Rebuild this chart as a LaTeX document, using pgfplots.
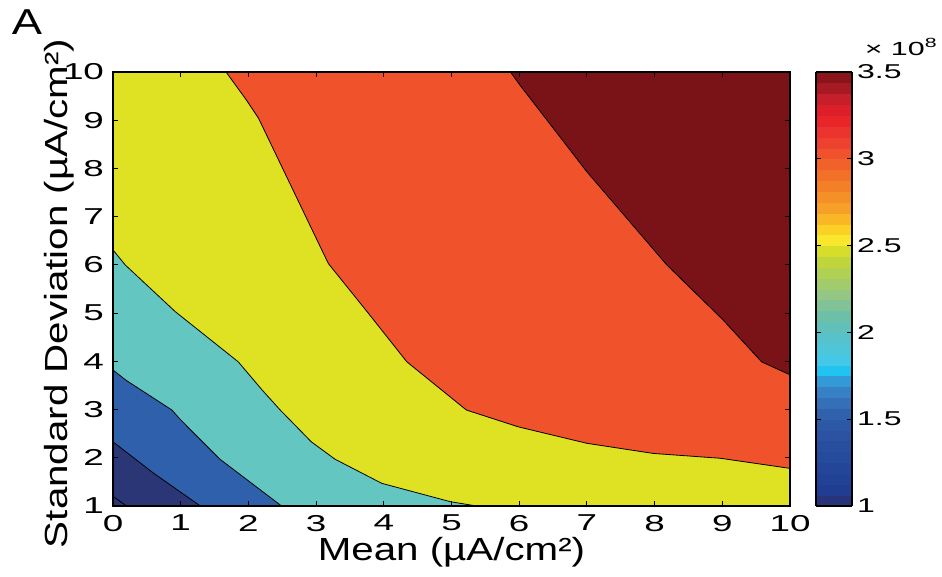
\documentclass[border=0pt]{standalone}
\usepackage{fontspec}
\setmainfont{Liberation Sans}
\newfontfamily\tickfont[FakeStretch=1.6]{Liberation Sans}
\newfontfamily\labelfont[FakeStretch=1.26]{Liberation Sans}
\usepackage{pgfplots}
\pgfplotsset{compat=1.18}

\definecolor{cNavy}{RGB}{42,54,118}
\definecolor{cBlue}{RGB}{46,96,171}
\definecolor{cTeal}{RGB}{99,198,192}
\definecolor{cYellow}{RGB}{223,226,35}
\definecolor{cOrange}{RGB}{240,83,44}
\definecolor{cDarkRed}{RGB}{122,19,23}

\begin{document}
\begin{tikzpicture}
\useasboundingbox (0,0) rectangle (471pt,288.5pt);
\begin{axis}[
    at={(56.5pt,35.5pt)}, anchor=south west,
    scale only axis, width=338.5pt, height=217pt,
    xmin=0, xmax=10, ymin=1, ymax=10,
    xtick={0,1,...,10}, ytick={1,2,...,10},
    tick align=inside, major tick length=2.5pt,
    tick style={black, line width=0.5pt},
    axis line style={line width=0.7pt},
    axis on top,
    /pgf/number format/assume math mode=true,
    ticklabel style={font=\tickfont\fontsize{11.5}{13}\selectfont},
    xticklabel style={yshift=-1pt},
    yticklabel style={xshift=-1pt},
    xlabel={Mean (µA/cm²)},
    ylabel={Standard Deviation (µA/cm²)},
    label style={font=\labelfont\fontsize{16}{19}\selectfont},
    xlabel style={at={(axis description cs:0.5,-0.106)}, anchor=center},
    ylabel style={at={(axis description cs:-0.079,0.49)}, anchor=center},
    colormap={matjet}{
        rgb255(0)=(43,47,110)
        rgb255(10)=(31,62,148)
        rgb255(50)=(45,90,166)
        rgb255(60)=(52,112,184)
        rgb255(70)=(58,141,208)
        rgb255(78)=(32,195,240)
        rgb255(85)=(70,200,230)
        rgb255(100)=(92,192,196)
        rgb255(110)=(110,192,166)
        rgb255(120)=(143,198,138)
        rgb255(135)=(179,209,80)
        rgb255(145)=(202,216,42)
        rgb255(152)=(247,235,43)
        rgb255(160)=(251,207,37)
        rgb255(170)=(248,165,39)
        rgb255(185)=(243,125,39)
        rgb255(200)=(240,90,43)
        rgb255(210)=(238,64,48)
        rgb255(225)=(231,31,39)
        rgb255(235)=(196,30,42)
        rgb255(250)=(122,19,23)
    },
    point meta min=1, point meta max=3.5,
    colorbar sampled,
    colorbar style={
        samples=41,
        width=18pt,
        at={(parent axis.north east)}, anchor=north west, xshift=4.5pt,
        ytick={1,1.5,2,2.5,3,3.5},
        ytick pos=both, yticklabel pos=right,
        tick align=inside, major tick length=2.5pt,
        tick style={black, line width=0.5pt},
        axis line style={line width=0.7pt},
        /pgf/number format/assume math mode=true,
        yticklabel style={font=\tickfont\fontsize{10}{12}\selectfont, xshift=-1pt},
    },
]
% filled contour bands, lowest first
\addplot[fill=cNavy, draw=none] coordinates {(0,1) (10,1) (10,10) (0,10)} -- cycle;
\addplot[fill=cBlue, draw=none] coordinates {
    (0,2.33) (0.6,1.68) (1.29,1) (10,1) (10,10) (0,10)} -- cycle;
\addplot[fill=cTeal, draw=none] coordinates {
    (0,3.82) (0.19,3.61) (0.87,2.99) (0.99,2.8) (1.58,1.97) (2.49,1)
    (10,1) (10,10) (0,10)} -- cycle;
\addplot[fill=cYellow, draw=none] coordinates {
    (0,6.31) (0.18,6.0) (0.92,5.03) (1.85,3.99) (2.2,3.41) (2.47,2.99)
    (2.93,2.33) (3.28,1.97) (3.97,1.47) (4.98,1.09) (5.37,1)
    (10,1) (10,10) (0,10)} -- cycle;
\addplot[fill=cOrange, draw=none] coordinates {
    (1.67,10) (1.97,9.42) (2.15,9.04) (3.18,6.03) (3.77,5.0) (4.34,3.99)
    (5.22,2.99) (5.99,2.64) (7.0,2.30) (7.98,2.09) (8.97,1.99) (10,1.78)
    (10,10)} -- cycle;
\addplot[fill=cDarkRed, draw=none] coordinates {
    (5.87,10) (6.01,9.73) (7.0,7.93) (8.18,6.0) (9.01,4.86) (9.58,3.99)
    (10,3.72) (10,10)} -- cycle;

% contour lines
\addplot[black, line width=0.4pt] coordinates {(0,1.2) (0.2,1)};
\addplot[black, line width=0.4pt] coordinates {(0,2.33) (0.6,1.68) (1.29,1)};
\addplot[black, line width=0.4pt] coordinates {
    (0,3.82) (0.19,3.61) (0.87,2.99) (0.99,2.8) (1.58,1.97) (2.49,1)};
\addplot[black, line width=0.4pt] coordinates {
    (0,6.31) (0.18,6.0) (0.92,5.03) (1.85,3.99) (2.2,3.41) (2.47,2.99)
    (2.93,2.33) (3.28,1.97) (3.97,1.47) (4.98,1.09) (5.37,1)};
\addplot[black, line width=0.4pt] coordinates {
    (1.67,10) (1.97,9.42) (2.15,9.04) (3.18,6.03) (3.77,5.0) (4.34,3.99)
    (5.22,2.99) (5.99,2.64) (7.0,2.30) (7.98,2.09) (8.97,1.99) (10,1.78)};
\addplot[black, line width=0.4pt] coordinates {
    (5.87,10) (6.01,9.73) (7.0,7.93) (8.18,6.0) (9.01,4.86) (9.58,3.99)
    (10,3.72)};
\end{axis}
\node[font=\labelfont\fontsize{18}{20}\selectfont] at (13.5pt,277.5pt) {A};
\node[font=\tickfont\fontsize{9.5}{11}\selectfont, anchor=east, inner sep=1pt] at (470pt,265pt) {× 10\textsuperscript{8}};
\end{tikzpicture}
\end{document}
